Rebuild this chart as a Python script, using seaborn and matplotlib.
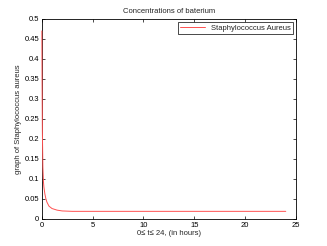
import seaborn as sns
import pandas as pd
import matplotlib.pyplot as plt

# time (hours) and concentration
hours = [0, 0.02, 0.05, 0.1, 0.15, 0.2, 0.3, 0.4, 0.5, 0.7, 1, 1.5, 2, 3, 5, 10, 24]
conc = [0.47, 0.35, 0.22, 0.13, 0.095, 0.08, 0.062, 0.05, 0.042, 0.032, 0.026,
        0.022, 0.02, 0.019, 0.019, 0.019, 0.019]
series = ['Staphylococcus Aureus'] * len(hours)

df = pd.DataFrame({'t': hours, 'c': conc, 'name': series})

sns.set_style('white')
plt.rcParams['font.family'] = ['Liberation Sans', 'DejaVu Sans']
plt.rcParams['font.size'] = 5.5

fig = plt.figure(figsize=(3.27, 2.46), dpi=100)
ax = fig.add_axes([0.128, 0.11, 0.777, 0.813])
sns.lineplot(x='t', y='c', data=df, hue='name', palette=['#ff5050'],
             linewidth=0.7, ax=ax)
# keep the red line on top of the left spine, like in the original
for ln in ax.lines:
    ln.set_zorder(3)
    ln.set_clip_on(False)

ax.set_xlim(0, 25)
ax.set_ylim(0, 0.5)
ax.set_xticks([0, 5, 10, 15, 20, 25])
ax.set_yticks([0, 0.05, 0.1, 0.15, 0.2, 0.25, 0.3, 0.35, 0.4, 0.45, 0.5])
ax.set_yticklabels(['0', '0.05', '0.1', '0.15', '0.2', '0.25', '0.3', '0.35',
                    '0.4', '0.45', '0.5'])
ax.tick_params(direction='in', length=2.5, width=0.5, labelsize=5.5, pad=2,
               top=True, right=True, bottom=True, left=True, colors='black')
for s in ax.spines.values():
    s.set_linewidth(0.6)
    s.set_color('black')

ax.set_xlabel('0≤ t≤ 24, (in hours)', fontsize=5.5, labelpad=1)
ax.set_ylabel('graph of Staphylococcus aureus', fontsize=5.5, labelpad=2)
ax.set_title('Concentrations of baterium', fontsize=5.5, pad=4)

leg = ax.legend(loc='upper right', fontsize=5.5, fancybox=False, framealpha=1,
                edgecolor='black', borderpad=0.3, handlelength=3.2,
                borderaxespad=0.4)
leg.get_frame().set_linewidth(0.5)

fig.savefig('out.png', dpi=100)
